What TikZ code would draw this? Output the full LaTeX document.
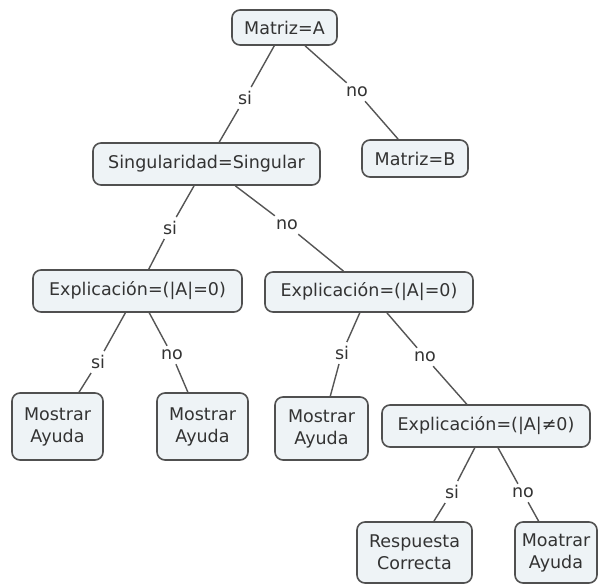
\documentclass[tikz,border=0pt]{standalone}
\usepackage{fontspec}
\setmainfont{DejaVu Sans}
\definecolor{boxline}{HTML}{505050}
\definecolor{boxfill}{HTML}{EEF3F6}
\definecolor{ink}{HTML}{333333}
\definecolor{linkcol}{HTML}{555555}
\begin{document}
\begin{tikzpicture}[x=1pt,y=-1pt,
  concept/.style={draw=boxline, fill=boxfill, line width=1.6pt, rounded corners=8pt,
    text=ink, font=\fontsize{17.5}{22}\selectfont, align=center, inner sep=0pt},
  answer/.style={text=ink, font=\fontsize{17.5}{22}\selectfont, inner sep=4pt},
  link/.style={draw=linkcol, line width=1.4pt}]
\fill[white] (0,0) rectangle (600,586);
\useasboundingbox (0,0) rectangle (600,586);

% concepts
\node[concept, minimum width=105pt, minimum height=35pt] (mA) at (284.5,27.5) {Matriz=A};
\node[concept, minimum width=106pt, minimum height=37pt] (mB) at (415,158.5) {Matriz=B};
\node[concept, minimum width=227pt, minimum height=42pt] (sing) at (206.5,164) {Singularidad=Singular};
\node[concept, minimum width=209pt, minimum height=42pt] (eL) at (137.5,291) {Explicación=(|A|=0)};
\node[concept, minimum width=208pt, minimum height=40pt] (eR) at (369,292) {Explicación=(|A|=0)};
\node[concept, minimum width=91pt, minimum height=67pt] (m1) at (57.5,426.5) {Mostrar\\Ayuda};
\node[concept, minimum width=91pt, minimum height=67pt] (m2) at (202.5,426.5) {Mostrar\\Ayuda};
\node[concept, minimum width=93pt, minimum height=63pt] (m3) at (321.5,428.5) {Mostrar\\Ayuda};
\node[concept, minimum width=208pt, minimum height=42pt] (eN) at (486,426) {Explicación=(|A|≠0)};
\node[concept, minimum width=115pt, minimum height=61pt] (rc) at (414.5,552.5) {Respuesta\\Correcta};
\node[concept, minimum width=82pt, minimum height=61pt] (ma) at (556,552.5) {Moatrar\\Ayuda};

% link phrases
\node[answer] (l1) at (245,98) {si};
\node[answer] (l2) at (357,92) {no};
\node[answer] (l3) at (170,228) {si};
\node[answer] (l4) at (287,225) {no};
\node[answer] (l5) at (98,362) {si};
\node[answer] (l6) at (172,355) {no};
\node[answer] (l7) at (342,353) {si};
\node[answer] (l8) at (425,357) {no};
\node[answer] (l9) at (452,492) {si};
\node[answer] (l10) at (523,493) {no};

% connectors
\draw[link] (mA) -- (l1);  \draw[link] (l1) -- (sing);
\draw[link] (mA) -- (l2);  \draw[link] (l2) -- (mB);
\draw[link] (sing) -- (l3); \draw[link] (l3) -- (eL);
\draw[link] (sing) -- (l4); \draw[link] (l4) -- (eR);
\draw[link] (eL) -- (l5);  \draw[link] (l5) -- (m1);
\draw[link] (eL) -- (l6);  \draw[link] (l6) -- (m2);
\draw[link] (eR) -- (l7);  \draw[link] (l7) -- (m3);
\draw[link] (eR) -- (l8);  \draw[link] (l8) -- (eN);
\draw[link] (eN) -- (l9);  \draw[link] (l9) -- (rc);
\draw[link] (eN) -- (l10); \draw[link] (l10) -- (ma);
\end{tikzpicture}
\end{document}
